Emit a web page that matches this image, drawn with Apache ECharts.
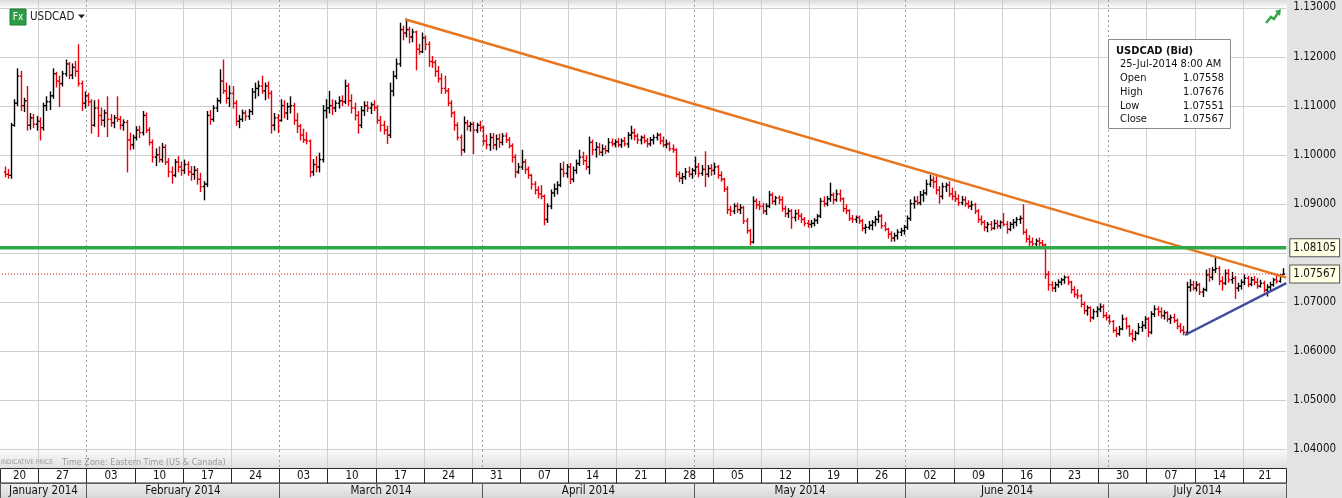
<!DOCTYPE html>
<html>
<head>
<meta charset="utf-8">
<title>USDCAD</title>
<script src="https://cdn.jsdelivr.net/npm/echarts@6/dist/echarts.min.js"></script>
<style>
html, body { margin: 0; padding: 0; background: #fff; }
#main { width: 1342px; height: 498px; }
</style>
</head>
<body>
<div id="main"></div>
<script>
// prices in pips above 1.0000 (960 -> 1.0960), 3 bars per trading day, one line per week
const opens = [
  965,960, 958,1060,1105, 1160,1100,1110, 1060,1075,1062,
  1068,1055,1100, 1108,1120,1165, 1150,1145,1165, 1185,1162,1178, 1170,1145,1105,
  1120,1108,1060, 1095,1080,1070, 1085,1072,1065, 1075,1072,1060, 1066,1030,1020,
  1035,1050,1045, 1080,1050,1025, 995,1000,990, 1015,985,965, 958,985,975,
  968,980,965, 960,968,950, 935,940,1080, 1072,1095,1110, 1150,1130,1115,
  1125,1105,1068, 1072,1085,1078, 1088,1128,1135, 1140,1130,1140, 1125,1060,1075,
  1070,1100,1085, 1098,1100,1070, 1058,1040,1030, 1028,965,980, 975,990,1090,
  1095,1100,1095, 1105,1110,1108, 1140,1110,1095, 1080,1060,1090, 1100,1095,1102,
  1096,1070,1060, 1050,1040,1130, 1160,1185,1255, 1248,1255,1240, 1250,1215,1210,
  1238,1225,1190, 1188,1170,1155, 1135,1130,1105, 1085,1060,1035, 1010,1065,1058,
  1062,1050,1060, 1055,1028,1020, 1035,1020,1032, 1025,1038,1030, 1018,995,965,
  975,985,970, 958,940,928, 920,915,868, 895,922,930, 938,970,962,
  975,950,968, 982,995,988, 975,1025,1010, 1015,1005,1012, 1008,1025,1022,
  1026,1020,1028, 1022,1040,1045, 1038,1030,1035, 1028,1022,1030, 1035,1040,1028,
  1020,1022,1012, 1010,960,952, 955,965,960, 968,975,962, 970,960,972,
  968,975,958, 950,930,888, 885,895,888, 892,865,845, 822,905,898,
  895,885,895, 918,905,912, 908,890,880, 885,872,880, 875,868,860,
  858,860,866, 875,905,900, 910,918,908, 920,910,890, 886,870,868,
  872,865,850, 852,856,862, 868,875,855, 848,838,830, 835,842,845,
  852,870,900, 905,902,918, 922,940,948, 945,928,915, 935,938,920,
  915,910,902, 908,900,895, 898,885,868, 862,852,858, 850,860,855,
  862,858,848, 858,862,868, 870,842,828, 822,818,824, 820,816,756,
  735,728,735, 740,745,750, 740,725,715, 712,695,682, 688,668,680,
  685,690,672, 668,660,642, 635,645,665, 650,635,625, 636,648,652,
  665,638,675, 685,680,672, 678,665,668, 662,650,642, 638,730,735,
  728,735,720, 725,755,750, 765,768,742, 738,758,745, 748,728,732,
  740,748,736, 745,740,732, 738,724,730, 735,745,742, 755.8
];
const highs = [
  975,970, 1064,1112,1175, 1170,1115,1139, 1084,1082,1078,
  1075,1105,1118, 1128,1175,1168, 1160,1170,1193, 1188,1185,1190, 1224,1150,1128,
  1125,1112,1110, 1112,1095,1091, 1118,1082,1080, 1118,1078,1071, 1070,1044,1040,
  1057,1058,1088, 1085,1055,1030, 1012,1016,1023, 1020,992,975, 990,996,985,
  989,985,976, 976,972,962, 945,1088,1090, 1100,1115,1173, 1193,1146,1140,
  1139,1110,1080, 1091,1090,1092, 1135,1146,1150, 1160,1146,1148, 1130,1084,1082,
  1112,1110,1105, 1118,1105,1084, 1062,1052,1045, 1030,990,996, 1003,1100,1112,
  1129,1112,1110, 1118,1120,1152, 1145,1122,1105, 1088,1098,1108, 1108,1106,1110,
  1100,1078,1068, 1058,1146,1170, 1195,1268,1262, 1276,1260,1256, 1252,1225,1248,
  1242,1230,1200, 1192,1180,1165, 1160,1135,1110, 1088,1065,1040, 1077,1070,1066,
  1066,1064,1068, 1058,1040,1043, 1043,1040,1042, 1043,1044,1035, 1022,1000,982,
  1009,990,975, 960,945,935, 937,918,900, 928,940,945, 982,985,980,
  982,975,989, 1009,1005,998, 1036,1030,1025, 1023,1020,1018, 1033,1032,1030,
  1033,1032,1035, 1045,1058,1052, 1042,1038,1040, 1033,1035,1040, 1044,1043,1036,
  1030,1026,1020, 1012,965,962, 972,975,972, 995,982,978, 1006,978,980,
  983,978,965, 952,935,895, 900,901,898, 895,870,848, 914,910,905,
  901,900,925, 922,915,916, 914,895,890, 888,887,888, 880,872,866,
  866,870,878, 911,914,915, 942,922,928, 928,912,898, 888,876,875,
  875,868,858, 864,866,874, 885,878,862, 850,843,840, 847,850,856,
  875,908,914, 915,925,928, 948,958,955, 955,935,942, 942,945,932,
  925,918,915, 914,906,905, 901,888,875, 866,862,864, 867,866,865,
  880,864,862, 868,872,875, 898,848,835, 830,828,830, 825,818,762,
  741,740,745, 748,753,752, 742,731,725, 715,700,692, 690,685,690,
  696,694,678, 673,662,648, 650,673,668, 652,643,640, 656,660,670,
  668,680,692, 690,688,682, 680,673,675, 665,656,650, 740,745,742,
  741,738,728, 765,768,770, 792,772,751, 765,766,760, 752,738,745,
  755,752,750, 752,748,744, 742,735,740, 748,755,756, 767.6
];
const lows = [
  955,952, 952,1058,1100, 1090,1088,1050, 1052,1055,1050,
  1030,1050,1090, 1092,1115,1138, 1098,1140,1160, 1155,1155,1160, 1140,1090,1095,
  1100,1044,1058, 1037,1060,1057, 1037,1058,1055, 1068,1052,1050, 965,1010,1012,
  1030,1035,1040, 1045,1020,985, 978,985,985, 980,955,942, 955,965,958,
  962,958,948, 950,940,925, 908,935,1062, 1068,1088,1105, 1125,1105,1098,
  1095,1060,1055, 1068,1070,1072, 1082,1115,1120, 1125,1112,1115, 1044,1050,1045,
  1068,1075,1072, 1085,1062,1045, 1030,1025,1022, 955,958,965, 965,985,1075,
  1085,1082,1088, 1095,1100,1104, 1100,1085,1071, 1044,1055,1080, 1088,1084,1090,
  1064,1048,1042, 1023,1035,1120, 1155,1180,1234, 1240,1228,1230, 1173,1205,1208,
  1214,1180,1178, 1160,1148,1125, 1125,1100,1077, 1050,1030,999, 1005,1050,1048,
  1002,1045,1048, 1020,1012,1009, 1012,1010,1015, 1020,1025,1014, 985,954,962,
  970,962,952, 930,920,912, 910,857,862, 890,915,920, 935,955,954,
  941,945,962, 978,980,970, 961,1000,995, 1000,998,1002, 1005,1018,1016,
  1016,1015,1018, 1015,1032,1030, 1023,1022,1024, 1016,1018,1022, 1030,1022,1016,
  1014,1008,1005, 955,945,941, 950,955,952, 960,955,958, 935,955,958,
  960,952,946, 925,880,876, 880,882,880, 860,840,816, 820,890,888,
  880,878,892, 900,898,900, 885,874,872, 850,865,868, 862,855,852,
  852,855,860, 872,895,896, 905,900,905, 905,884,880, 866,862,862,
  860,845,840, 848,847,855, 862,850,845, 830,823,824, 828,835,838,
  848,866,891, 898,898,905, 918,935,932, 920,901,910, 925,915,908,
  905,897,898, 895,891,888, 880,862,857, 845,843,846, 848,850,850,
  855,840,845, 850,855,860, 838,822,815, 813,812,815, 812,748,724,
  722,721,730, 735,738,735, 718,710,707, 690,676,673, 660,665,670,
  680,668,663, 655,638,629, 632,643,645, 630,619,622, 634,640,646,
  629,635,670, 672,667,665, 660,656,658, 645,638,633, 633,722,724,
  722,715,711, 722,742,745, 760,735,724, 735,740,738, 707,722,726,
  735,731,733, 735,728,730, 720,712,722, 732,738,740, 755.1
];
const closes = [
  960,958, 1060,1105,1160, 1100,1110,1060, 1075,1062,1068,
  1055,1100,1108, 1120,1165,1150, 1145,1165,1185, 1162,1178,1170, 1145,1105,1120,
  1108,1060,1095, 1080,1070,1085, 1072,1065,1075, 1072,1060,1066, 1030,1020,1035,
  1050,1045,1080, 1050,1025,995, 1000,990,1015, 985,965,958, 985,975,968,
  980,965,960, 968,950,935, 940,1080,1072, 1095,1110,1150, 1130,1115,1125,
  1105,1068,1072, 1085,1078,1088, 1128,1135,1140, 1130,1140,1125, 1060,1075,1070,
  1100,1085,1098, 1100,1070,1058, 1040,1030,1028, 965,980,975, 990,1090,1095,
  1100,1095,1105, 1110,1108,1140, 1110,1095,1080, 1060,1090,1100, 1095,1102,1096,
  1070,1060,1050, 1040,1130,1160, 1185,1255,1248, 1255,1240,1250, 1215,1210,1238,
  1225,1190,1188, 1170,1155,1135, 1130,1105,1085, 1060,1035,1010, 1065,1058,1062,
  1050,1060,1055, 1028,1020,1035, 1020,1032,1025, 1038,1030,1018, 995,965,975,
  985,970,958, 940,928,920, 915,868,895, 922,930,938, 970,962,975,
  950,968,982, 995,988,975, 1025,1010,1015, 1005,1012,1008, 1025,1022,1026,
  1020,1028,1022, 1040,1045,1038, 1030,1035,1028, 1022,1030,1035, 1040,1028,1020,
  1022,1012,1010, 960,952,955, 965,960,968, 975,962,970, 960,972,968,
  975,958,950, 930,888,885, 895,888,892, 865,845,822, 905,898,895,
  885,895,918, 905,912,908, 890,880,885, 872,880,875, 868,860,858,
  860,866,875, 905,900,910, 918,908,920, 910,890,886, 870,868,872,
  865,850,852, 856,862,868, 875,855,848, 838,830,835, 842,845,852,
  870,900,905, 902,918,922, 940,948,945, 928,915,935, 938,920,915,
  910,902,908, 900,895,898, 885,868,862, 852,858,850, 860,855,862,
  858,848,858, 862,868,870, 842,828,822, 818,824,820, 816,756,735,
  728,735,740, 745,750,740, 725,715,712, 695,682,688, 668,680,685,
  690,672,668, 660,642,635, 645,665,650, 635,625,636, 648,652,665,
  638,675,685, 680,672,678, 665,668,662, 650,642,638, 730,735,728,
  735,720,725, 755,750,765, 768,742,738, 758,745,748, 728,732,740,
  748,736,745, 740,732,738, 724,730,735, 745,742,752, 756.7
];

// x axis is counted in trading days from Monday 20 Jan 2014 (5 per week)
const firstSlot = 4;      // Tue 21 Jan, 2nd session
const barsPerDay = 3;
const weekLabels = ['20','27','03','10','17','24','03','10','17','24','31','07','14','21',
  '28','05','12','19','26','02','09','16','23','30','07','14','21'];
const monthNames = ['January 2014','February 2014','March 2014','April 2014','May 2014','June 2014','July 2014'];
const monthStartDays = [10, 30, 51, 73, 95, 116];
const priceLabels = [1.04, 1.05, 1.06, 1.07, 1.08, 1.09, 1.10, 1.11, 1.12, 1.13];
const priceTicks = [1.04, 1.045, 1.05, 1.055, 1.06, 1.065, 1.07, 1.075, 1.08, 1.085,
  1.09, 1.095, 1.10, 1.105, 1.11, 1.115, 1.12, 1.125, 1.13];
const levelPrices = [1.08105, 1.07567];
const resistanceLine = [[43.06, 1276], [134.52, 749.5]];
const supportLine = [[124.0, 632.5], [134.52, 738]];
const lastBarTime = '25-Jul-2014 8:00 AM';

const xMin = 0, xMax = 134.52;
const yMin = 1.03614, yMax = 1.13153;
const FONT = '"DejaVu Sans Condensed", "DejaVu Sans", sans-serif';
const toPrice = p => 1 + p / 10000;

const bars = closes.map((c, i) => [
  (firstSlot + i + 0.5) / barsPerDay,
  toPrice(opens[i]), toPrice(highs[i]), toPrice(lows[i]), toPrice(c)
]);

// vertical grid: week starts solid, month starts dotted
const vLines = [];
weekLabels.forEach((_, k) => {
  if (!monthStartDays.includes(k * 5)) vLines.push([k * 5, 0]);
});
monthStartDays.forEach(d => vLines.push([d, 1]));

const weekCells = weekLabels.map((_, k) => [k * 5, k * 5 + 5]);
const monthCells = monthNames.map((_, i) => [
  i === 0 ? xMin - 20 : monthStartDays[i - 1],
  i === monthNames.length - 1 ? xMax + 20 : monthStartDays[i]
]);

const chart = echarts.init(document.getElementById('main'));

function renderBar(params, api) {
  const t = api.value(0), o = api.value(1), h = api.value(2), l = api.value(3), c = api.value(4);
  const top = api.coord([t, h]), bot = api.coord([t, l]);
  const yo = api.coord([t, o])[1], yc = api.coord([t, c])[1];
  const x = Math.round(top[0]) + 0.5;
  const st = {stroke: c >= o ? '#000000' : '#e8000b', lineWidth: 1.4};
  return {type: 'group', children: [
    {type: 'line', shape: {x1: x, y1: top[1] - 0.5, x2: x, y2: bot[1] + 0.5}, style: st},
    {type: 'line', shape: {x1: x - 1.7, y1: yo, x2: x, y2: yo}, style: st},
    {type: 'line', shape: {x1: x, y1: yc, x2: x + 1.7, y2: yc}, style: st}
  ]};
}

function renderVLine(params, api) {
  const cs = params.coordSys;
  const x = Math.round(api.coord([api.value(0), yMin])[0]) + 0.5;
  const dotted = api.value(1) === 1;
  return {type: 'line', shape: {x1: x, y1: cs.y, x2: x, y2: cs.y + cs.height},
    style: {stroke: dotted ? '#9a9a9a' : '#cfcfcf', lineWidth: 1, lineDash: dotted ? [2, 3] : null}};
}

function renderHLine(params, api) {
  const cs = params.coordSys;
  const y = Math.round(api.coord([xMin, api.value(1)])[1]) + 0.5;
  return {type: 'line', shape: {x1: cs.x, y1: y, x2: cs.x + cs.width, y2: y},
    style: {stroke: '#cfcfcf', lineWidth: 1}};
}

function renderLevel(params, api) {
  const cs = params.coordSys;
  const price = api.value(1);
  const y = api.coord([xMin, price])[1];
  const green = params.dataIndex === 0;
  return {type: 'group', children: [
    {type: 'line', shape: {x1: cs.x, y1: y, x2: cs.x + cs.width, y2: y},
      style: green ? {stroke: '#2fa84a', lineWidth: 3.5} : {stroke: '#cc1111', lineWidth: 1, lineDash: [1, 2]}},
    {type: 'text', x: cs.x + cs.width + 4, y: y,
      style: {text: price.toFixed(5), fill: '#111', fontSize: 11.5, fontFamily: FONT,
        align: 'left', verticalAlign: 'middle', backgroundColor: '#ffffe3',
        borderColor: '#555', borderWidth: 1, padding: [3, 3, 2, 3]}}
  ]};
}

function rowRenderer(rowTop, rowH, fill, stroke, labels) {
  return function (params, api) {
    const cs = params.coordSys;
    let x0 = api.coord([api.value(0), yMin])[0];
    let x1 = api.coord([api.value(1), yMin])[0];
    x0 = Math.max(x0, 0);
    x1 = Math.min(x1, cs.x + cs.width);
    if (x1 <= x0) return null;
    const a = Math.round(x0) + 0.5, b = Math.round(x1) + 0.5;
    return {type: 'group', children: [
      {type: 'rect', shape: {x: a, y: rowTop + 0.5, width: b - a, height: rowH},
        style: {fill: fill, stroke: stroke, lineWidth: 1}},
      {type: 'text', x: (a + b) / 2, y: rowTop + rowH / 2 + 1,
        style: {text: labels[params.dataIndex], fill: '#111', fontSize: 11.5, fontFamily: FONT,
          align: 'center', verticalAlign: 'middle'}}
    ]};
  };
}

const monthFill = new echarts.graphic.LinearGradient(0, 0, 0, 1, [
  {offset: 0, color: '#efefef'}, {offset: 1, color: '#d6d6d6'}]);
const plotFill = new echarts.graphic.LinearGradient(0, 0, 0, 1, [
  {offset: 0, color: '#dcdcdc'}, {offset: 0.018, color: '#ffffff'},
  {offset: 0.955, color: '#ffffff'}, {offset: 1, color: '#e0e0e0'}]);

const lastIdx = closes.length - 1;
const infoRows = [
  ['Open', opens[lastIdx]], ['High', highs[lastIdx]], ['Low', lows[lastIdx]], ['Close', closes[lastIdx]]
];
const infoGraphics = [
  {type: 'rect', shape: {x: 1108.5, y: 39.5, width: 122, height: 89},
    style: {fill: '#ffffff', stroke: '#8c8c8c', lineWidth: 1}, z: 100},
  {type: 'text', x: 1116, y: 51.5, z: 101,
    style: {text: 'USDCAD (Bid)', fill: '#111', font: 'bold 11px ' + FONT, verticalAlign: 'middle'}},
  {type: 'text', x: 1120, y: 64.5, z: 101,
    style: {text: lastBarTime, fill: '#111', font: '11px ' + FONT, verticalAlign: 'middle'}}
];
infoRows.forEach((r, i) => {
  infoGraphics.push({type: 'text', x: 1120, y: 78.5 + i * 13.6, z: 101,
    style: {text: r[0], fill: '#111', font: '11px ' + FONT, verticalAlign: 'middle'}});
  infoGraphics.push({type: 'text', x: 1224, y: 78.5 + i * 13.6, z: 101,
    style: {text: toPrice(r[1]).toFixed(5), fill: '#111', font: '11px ' + FONT,
      align: 'right', verticalAlign: 'middle'}});
});

chart.setOption({
  animation: false,
  backgroundColor: '#ffffff',
  grid: {left: -9.9, right: 55.7, top: 0, bottom: 30, containLabel: false, outerBoundsMode: 'none'},
  xAxis: {
    type: 'value', min: xMin, max: xMax,
    axisLine: {show: false}, axisTick: {show: false}, axisLabel: {show: false}, splitLine: {show: false}
  },
  yAxis: {
    type: 'value', position: 'right', min: yMin, max: yMax,
    axisLine: {show: true, lineStyle: {color: '#3a3a3a', width: 1}},
    axisTick: {show: true, length: 5, lineStyle: {color: '#3a3a3a'}, customValues: priceTicks},
    axisLabel: {customValues: priceLabels, formatter: v => v.toFixed(5), color: '#111',
      fontSize: 11.5, fontFamily: FONT, margin: 7},
    splitLine: {show: false}
  },
  graphic: [
    {type: 'rect', z: -10, silent: true, shape: {x: 0, y: 0, width: 1287, height: 468}, style: {fill: plotFill}},
    {type: 'rect', z: -10, silent: true, shape: {x: 1287, y: 0, width: 55, height: 498}, style: {fill: '#e3e3e3'}},
    {type: 'rect', z: 100, shape: {x: 10, y: 9, width: 16, height: 16}, style: {fill: '#2d9c46', stroke: '#1f7a34'}},
    {type: 'text', z: 101, x: 18, y: 17.5,
      style: {text: 'Fx', fill: '#ffffff', font: '10px ' + FONT, align: 'center', verticalAlign: 'middle'}},
    {type: 'text', z: 101, x: 30, y: 17.5,
      style: {text: 'USDCAD', fill: '#1a1a1a', font: '11.5px ' + FONT, verticalAlign: 'middle'}},
    {type: 'polygon', z: 101, shape: {points: [[78, 14.5], [85, 14.5], [81.5, 18.5]]}, style: {fill: '#222'}},
    {type: 'polyline', z: 101, shape: {points: [[1266, 23], [1271, 17], [1274, 19], [1278, 13]]},
      style: {stroke: '#36a548', lineWidth: 2.5, fill: null}},
    {type: 'polygon', z: 101, shape: {points: [[1275, 11], [1281, 9], [1280, 16]]}, style: {fill: '#36a548'}},
    {type: 'text', z: 101, x: 1, y: 462.5,
      style: {text: 'INDICATIVE PRICE', fill: '#9a9a9a', font: '6.5px ' + FONT, verticalAlign: 'middle'}},
    {type: 'text', z: 101, x: 62, y: 462.5,
      style: {text: 'Time Zone: Eastern Time (US & Canada)', fill: '#9a9a9a', font: '9px ' + FONT, verticalAlign: 'middle'}}
  ].concat(infoGraphics),
  series: [
    {type: 'custom', name: 'vgrid', silent: true, z: 1, data: vLines, renderItem: renderVLine},
    {type: 'custom', name: 'hgrid', silent: true, z: 1, data: priceLabels.map(p => [xMin, p]), renderItem: renderHLine},
    {type: 'custom', name: 'USDCAD', silent: true, z: 3, data: bars, renderItem: renderBar,
      encode: {x: 0, y: [1, 2, 3, 4]}},
    {type: 'line', name: 'resistance', silent: true, z: 4, symbol: 'none',
      data: resistanceLine.map(p => [p[0], toPrice(p[1])]),
      lineStyle: {color: '#e8761f', width: 2.5}},
    {type: 'line', name: 'support', silent: true, z: 4, symbol: 'none',
      data: supportLine.map(p => [p[0], toPrice(p[1])]),
      lineStyle: {color: '#3f4b9e', width: 2.5}},
    {type: 'custom', name: 'levels', silent: true, z: 5, clip: false,
      data: levelPrices.map(p => [xMax, p]), renderItem: renderLevel},
    {type: 'custom', name: 'weeks', silent: true, z: 6, clip: false, data: weekCells,
      renderItem: rowRenderer(468, 14.5, '#ffffff', '#2a2a2a', weekLabels)},
    {type: 'custom', name: 'months', silent: true, z: 6, clip: false, data: monthCells,
      renderItem: rowRenderer(483, 15, monthFill, '#5a5a5a', monthNames)}
  ]
});
</script>
</body>
</html>
